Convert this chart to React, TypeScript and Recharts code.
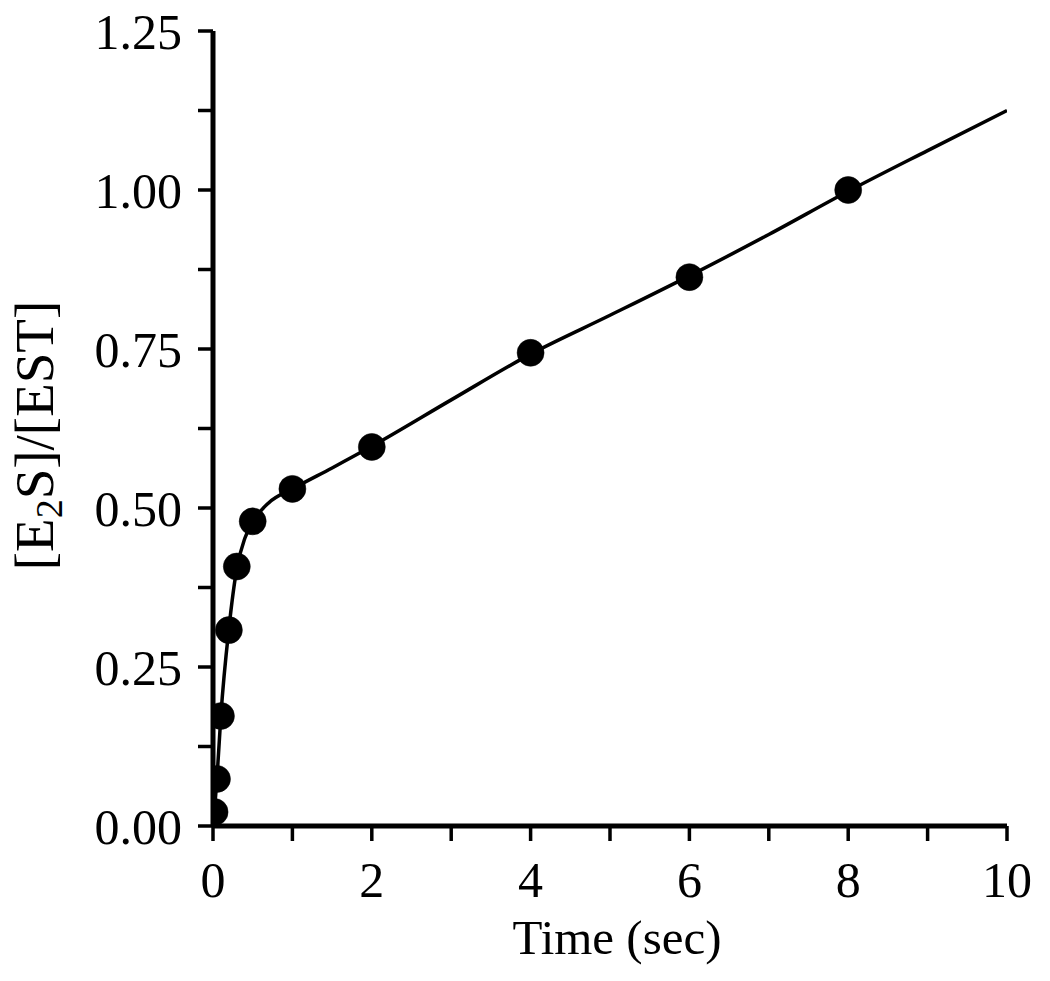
import React from 'react';
import { ComposedChart, Line, Scatter, XAxis, YAxis, Label } from 'recharts';

// Measured points: time (sec) and [E2S]/[EST]
const pointTimes = [0.02, 0.05, 0.1, 0.2, 0.3, 0.5, 1, 2, 4, 6, 8];
const pointValues = [0.022, 0.074, 0.173, 0.308, 0.408, 0.479, 0.53, 0.596, 0.744, 0.863, 1.0];

// Fitted curve
const curveTimes = [0, 0.05, 0.1, 0.2, 0.3, 0.4, 0.5, 0.7, 1, 1.5, 2, 3, 4, 5, 6, 7, 8, 9, 10];
const curveValues = [0, 0.075, 0.175, 0.31, 0.405, 0.452, 0.478, 0.508, 0.53, 0.563, 0.597, 0.67, 0.742, 0.803, 0.865, 0.93, 0.998, 1.062, 1.125];

const xTicks = [0, 1, 2, 3, 4, 5, 6, 7, 8, 9, 10];
const xLabeledTicks = [0, 2, 4, 6, 8, 10];
const yTicks = [0, 0.125, 0.25, 0.375, 0.5, 0.625, 0.75, 0.875, 1, 1.125, 1.25];
const yLabeledTicks = [0, 0.25, 0.5, 0.75, 1, 1.25];

const xTitle = 'Time (sec)';

const pointData = pointTimes.map((t, i) => ({ t, v: pointValues[i] }));
const curveData = curveTimes.map((t, i) => ({ t, v: curveValues[i] }));

const FONT = '"Liberation Serif", "Times New Roman", serif';

const Dot = (props: any) => {
  const { cx, cy } = props;
  if (cx == null || cy == null) return null;
  return <circle cx={cx} cy={cy} r={13.5} fill="#000" stroke="#000" strokeWidth={0.5} />;
};

const XTitle = (props: any) => {
  const vb = props.viewBox || { x: 213, y: 826, width: 794, height: 155 };
  return (
    <text x={vb.x + vb.width / 2 + 7} y={vb.y + 128} textAnchor="middle" fontFamily={FONT} fontSize={49} fill="#000">
      {xTitle}
    </text>
  );
};

const YTitle = (props: any) => {
  const vb = props.viewBox || { x: 0, y: 31, width: 213, height: 795 };
  const cx = vb.x + 53;
  const cy = vb.y + vb.height / 2 + 7;
  return (
    <text x={cx} y={cy} transform={`rotate(-90, ${cx}, ${cy})`} textAnchor="middle" fontFamily={FONT} fontSize={55} fill="#000">
      <tspan>[E</tspan>
      <tspan fontSize={38} dy={9}>2</tspan>
      <tspan dy={-9}>S]/[EST]</tspan>
    </text>
  );
};

export default function App() {
  return (
    <div style={{ position: 'absolute', left: 0, top: 0, width: 1050, height: 981, background: '#fff' }}>
      <ComposedChart width={1050} height={981} margin={{ top: 31, right: 43, left: 0, bottom: 0 }}>
        <XAxis
          dataKey="t"
          type="number"
          domain={[0, 10]}
          ticks={xTicks}
          interval={0}
          height={155}
          tickSize={15}
          tickMargin={20}
          axisLine={{ stroke: '#000', strokeWidth: 5 }}
          tickLine={{ stroke: '#000', strokeWidth: 3.5 }}
          tick={{ fill: '#000', fontSize: 50, fontFamily: FONT }}
          tickFormatter={(v: number) => (xLabeledTicks.includes(v) ? String(v) : '')}
          allowDataOverflow
        >
          <Label content={<XTitle />} />
        </XAxis>
        <YAxis
          dataKey="v"
          type="number"
          domain={[0, 1.25]}
          ticks={yTicks}
          interval={0}
          width={213}
          tickSize={15}
          tickMargin={16}
          axisLine={{ stroke: '#000', strokeWidth: 5 }}
          tickLine={{ stroke: '#000', strokeWidth: 3.5 }}
          tick={{ fill: '#000', fontSize: 50, fontFamily: FONT }}
          tickFormatter={(v: number) => (yLabeledTicks.includes(v) ? v.toFixed(2) : '')}
          allowDataOverflow
        >
          <Label content={<YTitle />} />
        </YAxis>
        <Line
          data={curveData}
          dataKey="v"
          type="monotone"
          stroke="#000"
          strokeWidth={3.5}
          dot={false}
          activeDot={false}
          isAnimationActive={false}
        />
        <Scatter data={pointData} dataKey="v" shape={<Dot />} isAnimationActive={false} />
      </ComposedChart>
    </div>
  );
}
